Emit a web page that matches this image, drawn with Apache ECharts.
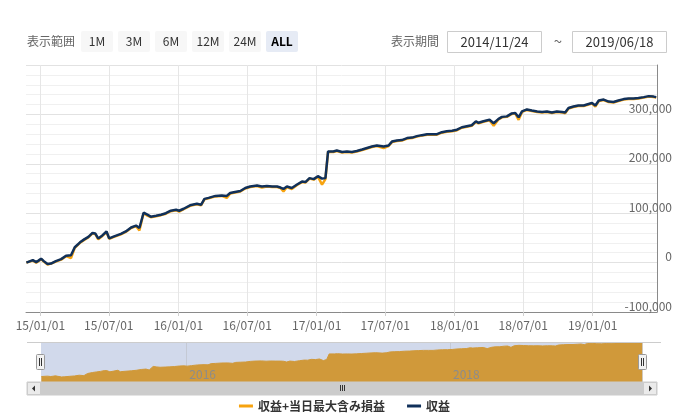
<!DOCTYPE html>
<html><head><meta charset="utf-8">
<script src="https://cdn.jsdelivr.net/npm/echarts@6/dist/echarts.min.js"></script>
<style>html,body{margin:0;padding:0;background:#fff}#c{width:689px;height:415px}</style>
</head><body><div id="c"></div>
<script>
const seriesNames = ['収益+当日最大含み損益', '収益'];
const dates = [
'2014-11-25','2014-12-12','2014-12-21','2014-12-27','2015-01-03','2015-01-10','2015-01-20','2015-01-29','2015-02-11','2015-02-25',
'2015-03-10','2015-03-23','2015-04-02','2015-04-16','2015-04-27','2015-05-08','2015-05-19','2015-05-26','2015-06-03','2015-06-14',
'2015-06-25','2015-07-02','2015-07-15','2015-08-02','2015-08-15','2015-08-29','2015-09-11','2015-09-20','2015-10-01','2015-10-11',
'2015-10-20','2015-11-03','2015-11-16','2015-11-29','2015-12-12','2015-12-26','2016-01-03','2016-01-15','2016-02-01','2016-02-19',
'2016-03-01','2016-03-10','2016-03-21','2016-04-08','2016-04-25','2016-05-08','2016-05-17','2016-05-30','2016-06-13','2016-06-26',
'2016-07-09','2016-07-27','2016-08-09','2016-08-22','2016-09-05','2016-09-18','2016-09-27','2016-10-05','2016-10-14','2016-10-27',
'2016-11-10','2016-11-23','2016-12-02','2016-12-13','2016-12-24','2017-01-04','2017-01-15','2017-01-24','2017-01-31','2017-02-14',
'2017-02-23','2017-03-09','2017-03-22','2017-04-04','2017-04-17','2017-05-01','2017-05-14','2017-05-27','2017-06-09','2017-06-27',
'2017-07-10','2017-07-19','2017-08-01','2017-08-14','2017-08-28','2017-09-10','2017-09-23','2017-10-06','2017-10-20','2017-11-02',
'2017-11-15','2017-11-28','2017-12-11','2017-12-25','2018-01-07','2018-01-20','2018-02-02','2018-02-15','2018-02-26','2018-03-05',
'2018-03-18','2018-04-03','2018-04-14','2018-04-27','2018-05-06','2018-05-19','2018-06-01','2018-06-10','2018-06-19','2018-06-28',
'2018-07-11','2018-07-24','2018-08-07','2018-08-20','2018-09-02','2018-09-15','2018-09-28','2018-10-12','2018-10-20','2018-10-29',
'2018-11-11','2018-11-24','2018-12-08','2018-12-21','2018-12-30','2019-01-08','2019-01-17','2019-01-30','2019-02-12','2019-02-25',
'2019-03-10','2019-03-24','2019-04-06','2019-04-19','2019-05-02','2019-05-16','2019-05-29','2019-06-11','2019-06-18'
];
const profit = [
0,5000,1000,4000,8000,3000,-3000,-2000,3000,7000,
14000,15000,31000,41000,47000,52000,60000,59000,49000,55000,
63000,49000,53000,58000,63000,71000,75000,70000,101000,97000,
93000,95000,97000,100000,105000,107000,105000,109000,116000,119000,
117000,129000,131000,135000,136000,135000,141000,143000,145000,151000,
154000,156000,154000,155000,154000,154000,152000,149000,154000,151000,
158000,164000,163000,171000,169000,175000,170000,171000,225000,225000,
227000,224000,225000,224000,226000,229000,232000,235000,237000,235000,
237000,245000,247000,248000,252000,253000,256000,258000,260000,260000,
260000,264000,266000,267000,269000,274000,276000,278000,286000,283000,
286000,289000,282000,291000,295000,296000,302000,303000,294000,306000,
310000,308000,306000,305000,306000,304000,306000,305000,304000,313000,
316000,318000,318000,321000,323000,318000,328000,330000,326000,325000,
328000,331000,332000,332000,333000,335000,337000,336000,335000
];
const profitWithDD = [
0,4000,0,3000,7000,2000,-4000,-2000,2000,6000,
13000,9000,30000,40000,46000,51000,59000,58000,47000,54000,
62000,48000,52000,57000,62000,70000,74000,65000,100000,95000,
92000,94000,96000,99000,104000,106000,103000,108000,115000,118000,
116000,128000,130000,134000,135000,131000,140000,142000,144000,150000,
153000,155000,152000,154000,153000,153000,151000,144000,153000,149000,
157000,163000,162000,170000,168000,174000,158000,169000,224000,224000,
226000,223000,224000,223000,225000,228000,231000,234000,236000,232000,
236000,244000,246000,247000,251000,252000,255000,257000,259000,259000,
259000,263000,265000,266000,268000,273000,275000,277000,285000,282000,
285000,288000,277000,290000,294000,295000,301000,302000,289000,305000,
309000,307000,305000,304000,305000,303000,305000,304000,302000,312000,
315000,317000,317000,320000,322000,316000,327000,329000,325000,324000,
327000,330000,331000,331000,332000,334000,336000,335000,334000
];
const xTickDates = ['2015-01-01','2015-07-01','2016-01-01','2016-07-01','2017-01-01','2017-07-01','2018-01-01','2018-07-01','2019-01-01'];
const navYears = ['2016-01-01', '2018-01-01'];
const rangeButtons = ['1M','3M','6M','12M','24M','ALL'];
const periodStart = '2014/11/24';
const periodEnd = '2019/06/18';
const axisStart = '2014-11-24';
const axisEnd = '2019-06-20';

const FONT = '"Noto Sans CJK JP","Noto Sans",sans-serif';
const NAVY = '#10305a';
const ORANGE = '#f7a30f';

const ts = s => echarts.number.parseDate(s).getTime();
const pairs = (vals) => dates.map((d, i) => [ts(d), vals[i]]);
const pad = n => String(n).padStart(2, '0');
function fmtDate(v) { const d = new Date(v); return pad(d.getFullYear() % 100) + '/' + pad(d.getMonth() + 1) + '/' + pad(d.getDate()); }
const xTicks = xTickDates.map(ts);
const navTicks = navYears.map(ts);

const chart = echarts.init(document.getElementById('c'), null, {renderer: 'canvas'});
chart.setOption({
  animation: false,
  textStyle: {fontFamily: FONT},
  grid: [
    {left: 26, right: 32, top: 65, bottom: 103, outerBoundsMode: 'none', containLabel: false},
    {left: 41, right: 46, top: 342, height: 40, show: true, backgroundColor: '#d1d9eb', borderWidth: 0, outerBoundsMode: 'none', containLabel: false}
  ],
  xAxis: [
    {type: 'value', gridIndex: 0, min: ts(axisStart), max: ts(axisEnd), scale: true,
     axisLine: {show: true, onZero: false, lineStyle: {color: '#8a8a8a', width: 1}},
     axisTick: {show: true, length: 4, lineStyle: {color: '#d0d0d0'}, customValues: xTicks},
     axisLabel: {show: true, customValues: xTicks, formatter: v => fmtDate(v), color: '#666', fontSize: 12, margin: 7, fontFamily: FONT},
     splitLine: {show: true, lineStyle: {color: '#e6e6e6', width: 1}}},
    {type: 'value', gridIndex: 1, min: ts(axisStart), max: ts(axisEnd), scale: true,
     axisLine: {show: false}, axisTick: {show: false, customValues: navTicks},
     axisLabel: {show: false, customValues: navTicks},
     splitLine: {show: true, lineStyle: {color: '#c4c9d4', width: 1}}}
  ],
  yAxis: [
    {type: 'value', gridIndex: 0, position: 'right', min: -100000, max: 400000, interval: 100000,
     axisLine: {show: true, lineStyle: {color: '#8a8a8a', width: 1}},
     axisTick: {show: false},
     axisLabel: {show: true, showMaxLabel: false, align: 'right', verticalAlign: 'bottom', margin: 15, color: '#666', fontSize: 12, fontFamily: FONT,
                 formatter: v => Number(v).toLocaleString('en-US')},
     splitLine: {show: true, lineStyle: {color: '#e2e2e2', width: 1}},
     minorTick: {show: false, splitNumber: 5},
     minorSplitLine: {show: true, lineStyle: {color: '#f0f0f0', width: 1}}},
    {type: 'value', gridIndex: 1, min: -54000, max: 342000, show: false, splitLine: {show: false}}
  ],
  legend: {
    data: [{name: seriesNames[0], icon: 'rect'}, {name: seriesNames[1], icon: 'rect'}],
    left: 'center', top: 395, itemWidth: 14, itemHeight: 3, itemGap: 22,
    textStyle: {color: '#333', fontSize: 12, fontWeight: 'bold', fontFamily: FONT}
  },
  series: [
    {name: seriesNames[0], type: 'line', xAxisIndex: 0, yAxisIndex: 0, data: pairs(profitWithDD), showSymbol: false, symbol: 'none',
     lineStyle: {color: ORANGE, width: 2.5}, itemStyle: {color: ORANGE}, z: 2},
    {name: seriesNames[1], type: 'line', xAxisIndex: 0, yAxisIndex: 0, data: pairs(profit), showSymbol: false, symbol: 'none',
     lineStyle: {color: NAVY, width: 2.5}, itemStyle: {color: NAVY}, z: 3},
    {name: 'navigator', type: 'line', xAxisIndex: 1, yAxisIndex: 1, data: pairs(profitWithDD), showSymbol: false, symbol: 'none', silent: true,
     lineStyle: {color: '#d0993a', width: 1}, areaStyle: {color: '#d0993a', opacity: 1, origin: 'start'}, itemStyle: {color: '#d0993a'}, z: 2}
  ]
});

const g = [];
g.push({type: 'text', x: 27, y: 41.5, style: {text: '表示範囲', fill: '#666', font: '12px ' + FONT, textVerticalAlign: 'middle'}});
rangeButtons.forEach((b, i) => {
  const x = 81 + i * 37;
  const active = b === 'ALL';
  g.push({type: 'rect', shape: {x: x, y: 31, width: 32, height: 21, r: 2}, style: {fill: active ? '#e6ebf5' : '#f7f7f7'}});
  g.push({type: 'text', x: x + 16, y: 41.5, style: {text: b, fill: active ? '#000' : '#333', font: (active ? 'bold ' : '') + '12px ' + FONT, textAlign: 'center', textVerticalAlign: 'middle'}});
});
g.push({type: 'text', x: 391, y: 41.5, style: {text: '表示期間', fill: '#666', font: '12px ' + FONT, textVerticalAlign: 'middle'}});
g.push({type: 'rect', shape: {x: 447.5, y: 31.5, width: 94, height: 21}, style: {fill: '#fff', stroke: '#cccccc', lineWidth: 1}});
g.push({type: 'text', x: 494.5, y: 42, style: {text: periodStart, fill: '#333', font: '13px ' + FONT, textAlign: 'center', textVerticalAlign: 'middle'}});
g.push({type: 'text', x: 558, y: 41, style: {text: '~', fill: '#666', font: '15px ' + FONT, textAlign: 'center', textVerticalAlign: 'middle'}});
g.push({type: 'rect', shape: {x: 572.5, y: 31.5, width: 94, height: 21}, style: {fill: '#fff', stroke: '#cccccc', lineWidth: 1}});
g.push({type: 'text', x: 619.5, y: 42, style: {text: periodEnd, fill: '#333', font: '13px ' + FONT, textAlign: 'center', textVerticalAlign: 'middle'}});

g.push({type: 'line', shape: {x1: 27, y1: 342.5, x2: 661, y2: 342.5}, style: {stroke: '#cccccc', lineWidth: 1}, z: 10});
navTicks.forEach(t => {
  const px = chart.convertToPixel({xAxisIndex: 1}, t);
  g.push({type: 'text', x: px + 3, y: 374, style: {text: String(new Date(t).getFullYear()), fill: '#8c8c8c', font: '12px ' + FONT, textVerticalAlign: 'middle'}, z: 10});
});
g.push({type: 'rect', shape: {x: 27, y: 382, width: 630, height: 13}, style: {fill: '#cccccc', stroke: '#cccccc', lineWidth: 1}, z: 10});
g.push({type: 'rect', shape: {x: 27.5, y: 382.5, width: 13, height: 12}, style: {fill: '#ebebeb', stroke: '#cccccc', lineWidth: 1}, z: 11});
g.push({type: 'rect', shape: {x: 643.5, y: 382.5, width: 13, height: 12}, style: {fill: '#ebebeb', stroke: '#cccccc', lineWidth: 1}, z: 11});
g.push({type: 'polygon', shape: {points: [[35, 385.5], [35, 391.5], [32, 388.5]]}, style: {fill: '#333'}, z: 12});
g.push({type: 'polygon', shape: {points: [[649, 385.5], [649, 391.5], [652, 388.5]]}, style: {fill: '#333'}, z: 12});
[340.5, 342.5, 344.5].forEach(x => g.push({type: 'line', shape: {x1: x, y1: 385, x2: x, y2: 391}, style: {stroke: '#333', lineWidth: 1}, z: 12}));
[41, 643].forEach(cx => {
  g.push({type: 'rect', shape: {x: cx - 4.5, y: 354.5, width: 8, height: 15, r: 1}, style: {fill: '#f2f2f2', stroke: '#999', lineWidth: 1}, z: 12});
  g.push({type: 'line', shape: {x1: cx - 1.5, y1: 358, x2: cx - 1.5, y2: 366}, style: {stroke: '#333', lineWidth: 1}, z: 13});
  g.push({type: 'line', shape: {x1: cx + 0.5, y1: 358, x2: cx + 0.5, y2: 366}, style: {stroke: '#333', lineWidth: 1}, z: 13});
});
chart.setOption({graphic: g});
</script>
</body></html>
